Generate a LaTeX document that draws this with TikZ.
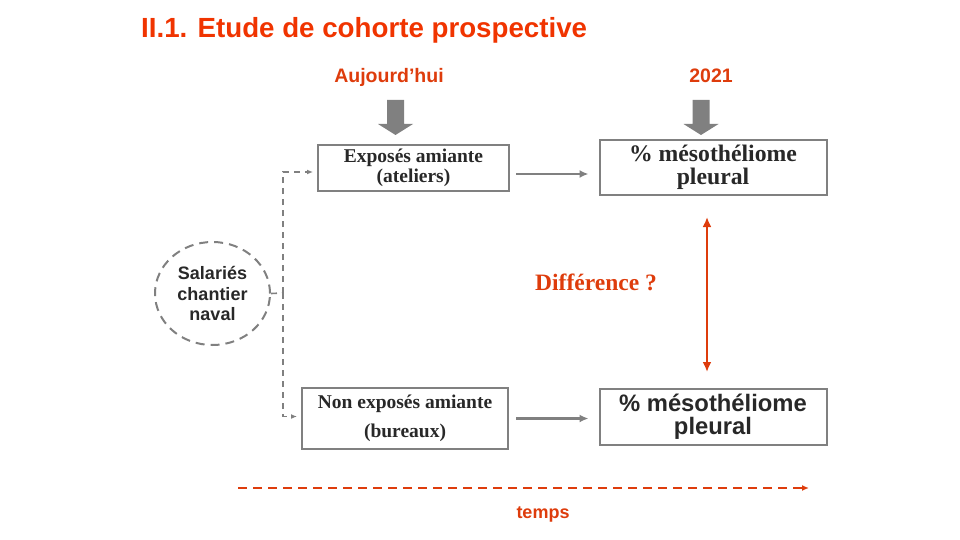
\documentclass[tikz,border=0pt]{standalone}
\usepackage{fontspec}
\setmainfont{Liberation Serif}
\setsansfont{Liberation Sans}
\usepackage{tikz}
\usetikzlibrary{shapes.geometric,arrows.meta}
\definecolor{titlered}{RGB}{240,52,0}
\definecolor{labelred}{RGB}{222,60,12}
\definecolor{boxgray}{RGB}{128,128,128}
\definecolor{dashgray}{RGB}{128,128,128}
\definecolor{textgray}{RGB}{40,40,40}
\tikzset{
	box/.style={draw=boxgray, line width=2pt, fill=white, inner sep=0pt, align=center, text=textgray},
	link/.style={draw=boxgray, line width=2.4pt, -{Latex[length=9pt,width=8pt]}},
	dashlink/.style={draw=dashgray, line width=1.6pt, dash pattern=on 6pt off 5pt},
	redlabel/.style={text=labelred, inner sep=0pt},
}
\begin{document}
\begin{tikzpicture}[x=1pt,y=-1pt]
				\useasboundingbox (0,0) rectangle (960,540);
				\node[anchor=base west, text=titlered, inner sep=0pt, font=\sffamily\bfseries\fontsize{27.7}{30}\selectfont] (title) at (141,38) {II.1. Etude de cohorte prospective};
				\node[redlabel, anchor=base, font=\sffamily\bfseries\fontsize{19.5}{22}\selectfont] (now) at (389,83) {Aujourd’hui};
				\node[redlabel, anchor=base, font=\sffamily\bfseries\fontsize{19.5}{22}\selectfont] (later) at (711,83) {2021};
				\foreach \x in {395.5,701}
					\fill[boxgray] (\x-8.5,100) -- (\x+8.5,100) -- (\x+8.5,124) -- (\x+17.5,124) -- (\x,135) -- (\x-17.5,124) -- (\x-8.5,124) -- cycle;
				\node[box, minimum width=191, minimum height=46, font=\rmfamily\bfseries\fontsize{19.5}{20}\selectfont] (expo) at (413.5,168) {Exposés amiante\\(ateliers)};
				\node[box, minimum width=227, minimum height=55, font=\rmfamily\bfseries\fontsize{23.7}{23}\selectfont] (mesoA) at (713,167.5) {\% mésothéliome\\pleural};
				\node[box, minimum width=206, minimum height=61, font=\rmfamily\bfseries\fontsize{19.5}{29}\selectfont] (nonexpo) at (405,418.5) {Non exposés amiante\\(bureaux)};
				\node[box, minimum width=227, minimum height=56, font=\sffamily\bfseries\fontsize{23.8}{23}\selectfont] (mesoB) at (713,417) {\% mésothéliome\\pleural};
				\node[ellipse, draw=dashgray, line width=2pt, dash pattern=on 9pt off 6pt, minimum width=115, minimum height=103, inner sep=0pt, align=center, text=textgray, font=\sffamily\bfseries\fontsize{18}{20.5}\selectfont] (staff) at (212.5,293.5) {Salariés\\chantier\\naval};
				\coordinate (split) at (283,293);
				\draw[dashlink] (staff.east) -- (split);
				\draw[dashlink, -{Latex[length=6pt,width=5pt]}, shorten >=4pt] (split) |- ([yshift=-4pt]expo.west);
				\draw[dashlink, -{Latex[length=6pt,width=5pt]}, shorten >=4pt] (split) |- ([yshift=2pt]nonexpo.west);
				\draw[link, shorten <=6pt, shorten >=10pt] ([yshift=-6pt]expo.east) -- ([yshift=-6pt]expo.east -| mesoA.west);
				\draw[link, shorten <=7pt, shorten >=10pt] (nonexpo.east) -- (nonexpo.east -| mesoB.west);
				\draw[draw=labelred, line width=2.6pt, {Latex[length=10pt,width=9pt]}-{Latex[length=10pt,width=9pt]}, shorten <=21pt, shorten >=16pt] ([xshift=-6pt]mesoA.south) -- ([xshift=-6pt]mesoB.north);
				\node[redlabel, anchor=base, font=\rmfamily\bfseries\fontsize{23.5}{26}\selectfont] (diff) at (596,290) {Différence ?};
				\coordinate (t0) at (238,488);
				\coordinate (t1) at (809,488);
				\draw[draw=labelred, line width=2pt, dash pattern=on 9pt off 6pt, -{Latex[length=7pt,width=6pt]}] (t0) -- (t1);
				\node[redlabel, anchor=base, font=\sffamily\bfseries\fontsize{18}{20}\selectfont] (time) at (543,518) {temps};
			\end{tikzpicture}
\end{document}
